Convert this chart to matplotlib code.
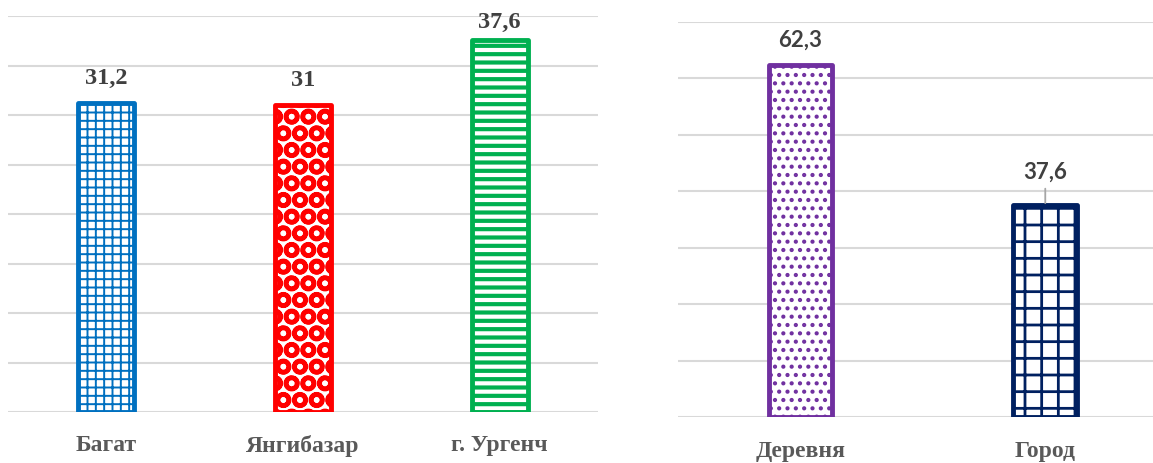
import matplotlib
matplotlib.use("Agg")
import matplotlib.pyplot as plt

# Data
left_categories = ["Багат", "Янгибазар", "г. Ургенч"]
left_values = [31.2, 31, 37.6]
left_labels = ["31,2", "31", "37,6"]

right_categories = ["Деревня", "Город"]
right_values = [62.3, 37.6]
right_labels = ["62,3", "37,6"]

left_colors = ["#0070C0", "#FF0000", "#00B050"]
left_hatches = ["++", "O", "--"]
left_hlw = [1.4, 3.2, 3.0]
right_colors = ["#7030A0", "#002060"]
right_hatches = ["..", "+"]
right_hlw = [1.8, 2.0]

W, H = 1153, 463
fig = plt.figure(figsize=(W / 100, H / 100), dpi=100)

ax1 = fig.add_axes([8 / W, 51 / H, 590 / W, 395.6 / H])
ax2 = fig.add_axes([678 / W, 46 / H, 475 / W, 395.5 / H])

grid_color = "#D9D9D9"
serif = ["Liberation Serif", "DejaVu Serif"]


def style_axes(ax, ymax, step):
    for s in ax.spines.values():
        s.set_visible(False)
    ax.set_ylim(0, ymax)
    ax.set_yticks([i * step for i in range(int(ymax / step) + 1)])
    ax.yaxis.grid(True, color=grid_color, linewidth=1.5)
    ax.set_axisbelow(True)
    ax.tick_params(axis="y", left=False, labelleft=False)
    ax.tick_params(axis="x", bottom=False, pad=13)


def draw_bars(ax, cats, vals, colors, hatches, hlws, width):
    xs = list(range(len(cats)))
    for x, v, c, h, lw in zip(xs, vals, colors, hatches, hlws):
        with plt.rc_context({"hatch.linewidth": lw, "hatch.color": c}):
            b = ax.bar(x, v, width=width, facecolor="white", edgecolor=c,
                       linewidth=3.5, hatch=h, zorder=3)
            for p in b:
                p.set_joinstyle("round")
                try:
                    p.set_hatch_linewidth(lw)
                except Exception:
                    pass
    ax.set_xticks(xs)
    ax.set_xticklabels(cats, fontfamily=serif, fontweight="bold",
                       fontsize=17, color="#595959")
    return xs


# Left chart
style_axes(ax1, 40, 5)
xs1 = draw_bars(ax1, left_categories, left_values, left_colors,
                left_hatches, left_hlw, 0.285)
ax1.set_xlim(-0.5, 2.5)
left_offsets = [18, 18, 13]
for x, v, lab, off in zip(xs1, left_values, left_labels, left_offsets):
    ax1.annotate(lab, (x, v), xytext=(0, off), textcoords="offset points",
                 ha="center", va="center", fontfamily=serif,
                 fontweight="bold", fontsize=17.5, color="#404040")

# Right chart
style_axes(ax2, 70, 10)
xs2 = draw_bars(ax2, right_categories, right_values, right_colors,
                right_hatches, right_hlw, 0.26)
ax2.set_xlim(-0.5, 1.44)
ax2.tick_params(axis="x", pad=14)
offsets = [18, 23]
for x, v, lab, off in zip(xs2, right_values, right_labels, offsets):
    if off > 20:
        ax2.annotate(lab, (x, v), xytext=(0, off), textcoords="offset points",
                     ha="center", va="center", fontfamily=["Lato", "DejaVu Sans"],
                     fontweight="bold", fontsize=16, color="#404040",
                     arrowprops=dict(arrowstyle="-", color="#A6A6A6", lw=1.3,
                                     shrinkA=2, shrinkB=1))
    else:
        ax2.annotate(lab, (x, v), xytext=(0, off), textcoords="offset points",
                     ha="center", va="center", fontfamily=["Lato", "DejaVu Sans"],
                     fontweight="bold", fontsize=16, color="#404040")

fig.savefig("out.png", dpi=100)
